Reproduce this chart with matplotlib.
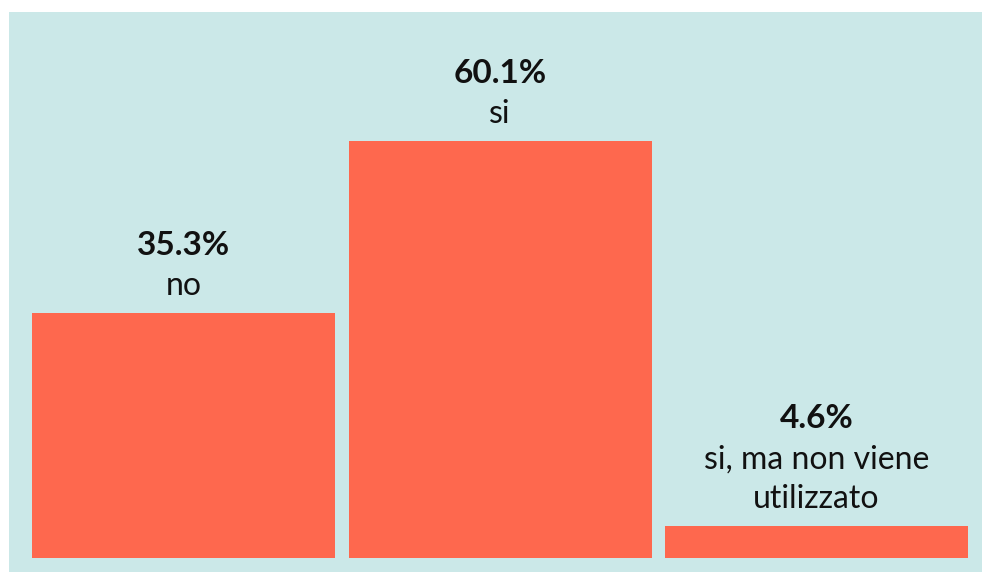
import matplotlib
matplotlib.use("Agg")
import matplotlib.pyplot as plt

categories = ["no", "si", "si, ma non viene\nutilizzato"]
values = [35.3, 60.1, 4.6]
pct_labels = ["35.3%", "60.1%", "4.6%"]

bg = "#cbe8e8"
bar_color = "#fe684e"
text_color = "#111111"
fam = ["Lato", "DejaVu Sans"]

W, H = 982, 572
fig = plt.figure(figsize=(W / 100, H / 100), dpi=100)
fig.patch.set_facecolor("white")
ax = fig.add_axes([9 / W, 0, (W - 9) / W, (H - 12) / H])
ax.set_facecolor(bg)

px_per_unit = 416.5 / 60.1
x_px_per_unit = 316.5
ax.set_xlim((9 - 183.5) / x_px_per_unit, (982 - 183.5) / x_px_per_unit)
ax.set_ylim(-14 / px_per_unit, (558 - 12) / px_per_unit)

xs = list(range(len(values)))
ax.bar(xs, values, width=303 / x_px_per_unit, color=bar_color, linewidth=0)

line_gap = 40
for x, v, p, c in zip(xs, values, pct_labels, categories):
    lines = [(p, "bold")] + [(t, "normal") for t in c.split("\n")]
    n = len(lines)
    for i, (t, w) in enumerate(lines):
        off = 18 + (n - 1 - i) * line_gap
        ax.annotate(t, (x, v), xytext=(0, off), textcoords="offset pixels",
                    ha="center", va="baseline",
                    fontsize=24 if w == "bold" else 23, fontweight=w,
                    family=fam, color=text_color)

ax.set_xticks([])
ax.set_yticks([])
for s in ax.spines.values():
    s.set_visible(False)

fig.savefig("out.png", dpi=100, facecolor=fig.get_facecolor())
